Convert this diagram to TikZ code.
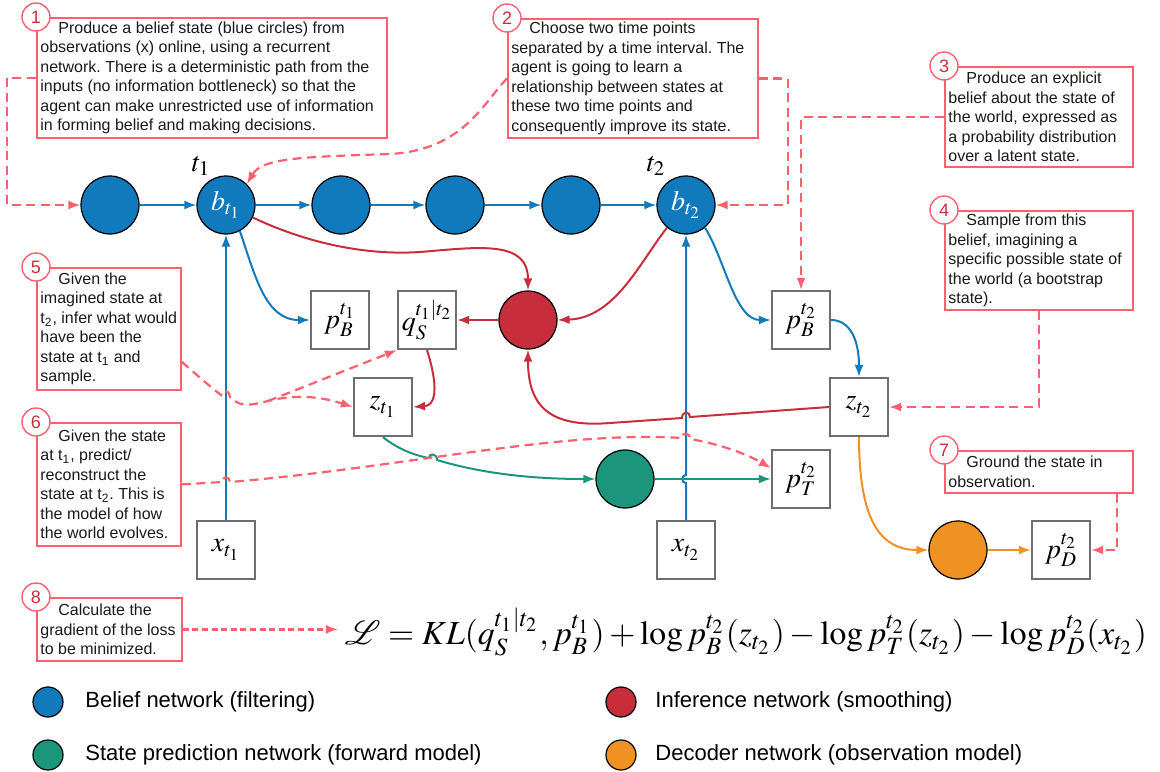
\documentclass[tikz,border=0pt]{standalone}
\usepackage{mathptmx}
\usepackage[no-math]{fontspec}
\usepackage{graphicx}
\newfontfamily\notefont{Liberation Sans}
\usetikzlibrary{arrows.meta,positioning}

\definecolor{beliefblue}{RGB}{17,122,189}
\definecolor{inferred}{RGB}{200,45,60}
\definecolor{predgreen}{RGB}{27,150,125}
\definecolor{decorange}{RGB}{240,145,35}
\definecolor{notepink}{RGB}{255,95,110}
\definecolor{numred}{RGB}{205,45,60}
\definecolor{boxgray}{RGB}{110,110,110}

\tikzset{
  net/.style={circle,draw=black,line width=0.6pt,minimum size=29pt,inner sep=0pt,text=white,font=\fontsize{14}{14}\selectfont},
  var/.style={draw=boxgray,line width=1.1pt,minimum size=29pt,inner sep=0pt,font=\fontsize{14}{14}\selectfont},
  notebox/.style={draw=notepink,line width=0.9pt,anchor=north west,inner sep=0pt},
  notetext/.style={anchor=west,align=left,inner sep=2pt,text=black!90,font=\notefont\fontsize{8}{9.75}\selectfont\frenchspacing},
  num/.style={circle,draw=notepink,fill=white,line width=0.7pt,minimum size=14pt,inner sep=0pt,text=numred,font=\notefont\fontsize{9}{9}\selectfont},
  arr/.style={-{Latex[length=6pt,width=4.5pt]}},
  flow/.style={arr,line width=1pt},
  hint/.style={arr,color=notepink,line width=1.1pt,dash pattern=on 4.5pt off 2.8pt},
  key/.style={circle,draw=black,line width=0.6pt,minimum size=15pt,inner sep=0pt},
  keytext/.style={anchor=west,inner sep=0pt,font=\notefont\fontsize{11}{11}\selectfont},
}

\begin{document}
\begin{tikzpicture}[x=0.5pt,y=-0.5pt]
\useasboundingbox (0,0) rectangle (1160,771);

% belief chain
\node[net,fill=beliefblue] (bA) at (110,205) {};
\node[net,fill=beliefblue] (b1) at (226,205) {$b_{t_1}$};
\node[net,fill=beliefblue] (bB) at (341,205) {};
\node[net,fill=beliefblue] (bC) at (455,205) {};
\node[net,fill=beliefblue] (bD) at (571,205) {};
\node[net,fill=beliefblue] (b2) at (686,205) {$b_{t_2}$};
\node[font=\fontsize{14}{14}\selectfont] (t1) at (201,166) {$t_1$};
\node[font=\fontsize{14}{14}\selectfont] (t2) at (656,166) {$t_2$};

\node[net,fill=inferred] (inf) at (528,320) {};
\node[net,fill=predgreen] (pred) at (625,479) {};
\node[net,fill=decorange] (dec) at (958,550) {};

\node[var] (pB1) at (340,320) {$p_B^{t_1}$};
\node[var] (qS) at (427,320) {$q_S^{t_1|t_2}$};
\node[var] (zt1) at (383,407) {$z_{t_1}$};
\node[var] (pB2) at (801,320) {$p_B^{t_2}$};
\node[var] (zt2) at (859,407) {$z_{t_2}$};
\node[var] (pT) at (801,479) {$p_T^{t_2}$};
\node[var] (xt1) at (226,550) {$x_{t_1}$};
\node[var] (xt2) at (686,550) {$x_{t_2}$};
\node[var] (pD) at (1061,550) {$p_D^{t_2}$};

\foreach \a/\b in {bA/b1,b1/bB,bB/bC,bC/bD,bD/b2}
  \draw[flow,beliefblue] (\a) -- (\b);
\draw[flow,beliefblue] (xt1) -- (b1);
\draw[flow,beliefblue] (xt2.north) -- (686,483) .. controls (681,483) and (681,475) .. (686,475) -- (b2.south);
\draw[flow,beliefblue] (b1.-62) .. controls (255,275) and (265,320) .. (pB1.west);
\draw[flow,beliefblue] (b2.-50) .. controls (725,260) and (735,320) .. (pB2.west);
\draw[flow,beliefblue] (pB2.east) .. controls (850,320) and (859,340) .. (zt2.north);

\draw[flow,inferred] (b1.-25) .. controls (300,240) and (360,256) .. (420,252) .. controls (480,247) and (528,240) .. (inf.north);
\draw[flow,inferred] (b2.-130) .. controls (640,262) and (615,318) .. (inf.east);
\draw[flow,inferred] (inf) -- (qS);
\draw[flow,inferred] (qS.south) .. controls (435,375) and (440,405) .. (zt1.east);
\draw[flow,inferred] (zt2.west) -- (690,417) .. controls (690,411) and (682,411) .. (682,418) -- (610,423) .. controls (548,428) and (528,405) .. (inf.south);

\draw[flow,predgreen] (zt1.south) .. controls (395,447) and (412,455) .. (429,458) .. controls (429,453) and (437,453) .. (437,460) .. controls (490,476) and (545,479) .. (pred.west);
\draw[flow,predgreen] (pred) -- (pT);
\draw[flow,decorange] (zt2.south) .. controls (859,520) and (880,550) .. (dec.west);
\draw[flow,decorange] (dec) -- (pD);

% callouts
\node[notebox,minimum width=175pt,minimum height=60pt] (n1) at (36,17) {};
\node[notetext] (n1t) at (n1.west) {\hspace*{9pt}Produce a belief state (blue circles) from\\observations (x) online, using a recurrent\\network. There is a deterministic path from the\\inputs (no information bottleneck) so that the\\agent can make unrestricted use of information\\in forming belief and making decisions.};
\node[notebox,minimum width=125pt,minimum height=59.5pt] (n2) at (507,18) {};
\node[notetext] (n2t) at (n2.west) {\hspace*{9pt}Choose two time points\\separated by a time interval. The\\agent is going to learn a\\relationship between states at\\these two time points and\\consequently improve its state.};
\node[notebox,minimum width=94pt,minimum height=50pt] (n3) at (944,66) {};
\node[notetext] (n3t) at (n3.west) {\hspace*{9pt}Produce an explicit\\belief about the state of\\the world, expressed as\\a probability distribution\\over a latent state.};
\node[notebox,minimum width=94pt,minimum height=49.5pt] (n4) at (944,210) {};
\node[notetext] (n4t) at (n4.west) {\hspace*{9pt}Sample from this\\belief, imagining a\\specific possible state of\\the world (a bootstrap\\state).};
\node[notebox,minimum width=72pt,minimum height=61pt] (n5) at (36,267) {};
\node[notetext] (n5t) at (n5.west) {\hspace*{9pt}Given the\\imagined state at\\t\textsubscript{2}, infer what would\\have been the\\state at t\textsubscript{1} and\\sample.};
\node[notebox,minimum width=72pt,minimum height=61.5pt] (n6) at (36,422) {};
\node[notetext] (n6t) at (n6.west) {\hspace*{9pt}Given the state\\at t\textsubscript{1}, predict/\\reconstruct the\\state at t\textsubscript{2}. This is\\the model of how\\the world evolves.};
\node[notebox,minimum width=94pt,minimum height=21pt] (n7) at (944,450) {};
\node[notetext] (n7t) at (n7.west) {\hspace*{9pt}Ground the state in\\observation.};
\node[notebox,minimum width=72.5pt,minimum height=31.5pt] (n8) at (36,597) {};
\node[notetext] (n8t) at (n8.west) {\hspace*{9pt}Calculate the\\gradient of the loss\\to be minimized.};

\foreach \n in {1,...,8}
  \node[num] (c\n) at (n\n.north west) {\n};

\node (loss) at (746,632) {\resizebox{401pt}{!}{$\mathcal{L} = KL(q_S^{t_1|t_2}, p_B^{t_1}) + \log p_B^{t_2}(z_{t_2}) - \log p_T^{t_2}(z_{t_2}) - \log p_D^{t_2}(x_{t_2})$}};

\coordinate (s5) at (268,401);
\draw[hint] (n1.west) -- ++(-29,0) |- (bA.west);
\draw[hint] (n2.west) .. controls (482,105) and (462,150) .. (390,154) .. controls (300,157) and (262,158) .. (b1.north east);
\draw[hint] (n2.east) -- ++(29,0) |- (b2.east);
\draw[hint] (n3.west) -| (pB2.north);
\draw[hint] (n4.south) |- (zt2.east);
\draw[hint] ([yshift=14.5pt]n5.south east) .. controls (200,378) and (212,388) .. (221,395) .. controls (221,389) and (229,389) .. (230,397) .. controls (240,408) and (252,405) .. (s5) .. controls (300,393) and (325,398) .. (zt1.west);
\draw[hint] (s5) -- (qS.south west);
\draw[hint] (n6.east) -- (222,482) .. controls (222,476) and (230,476) .. (230,482) .. controls (400,468) and (560,430) .. (682,438) .. controls (682,432) and (690,432) .. (690,439) .. controls (725,445) and (750,456) .. ([yshift=5.5pt]pT.west);
\draw[hint] ([xshift=-8.5pt]n7.south east) |- (pD.east);
\draw[hint,dash pattern=on 3pt off 1.8pt] (n8.east) -- (n8.east -| loss.west);

% legend
\node[key,fill=beliefblue] (k1) at (48,702) {};
\node[keytext] (k1t) at (85,702) {Belief network (filtering)};
\node[key,fill=inferred] (k2) at (621,702) {};
\node[keytext] (k2t) at (655,702) {Inference network (smoothing)};
\node[key,fill=predgreen] (k3) at (48,755) {};
\node[keytext] (k3t) at (85,755) {State prediction network (forward model)};
\node[key,fill=decorange] (k4) at (621,755) {};
\node[keytext] (k4t) at (655,755) {Decoder network (observation model)};
\end{tikzpicture}
\end{document}
